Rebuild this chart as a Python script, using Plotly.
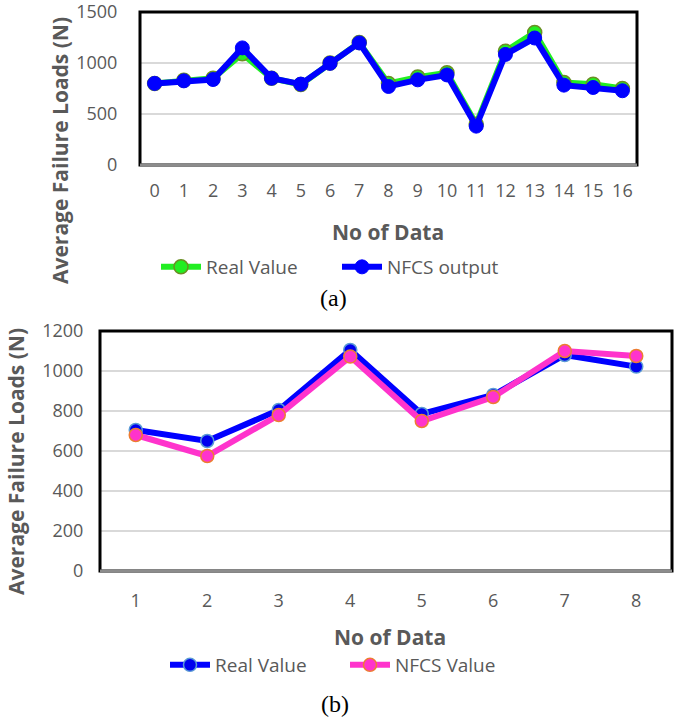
import plotly.graph_objects as go

# ---- data (a) ----
a_x = list(range(17))
a_real = [800, 830, 850, 1090, 850, 790, 1000, 1200, 800, 862, 905, 400, 1115, 1300, 808, 792, 750]
a_nfcs = [800, 825, 838, 1148, 851, 793, 997, 1197, 770, 835, 883, 381, 1084, 1245, 783, 760, 728]
a_yticks = [0, 500, 1000, 1500]

# ---- data (b) ----
b_x = [1, 2, 3, 4, 5, 6, 7, 8]
b_real = [705, 650, 805, 1105, 785, 880, 1080, 1022]
b_nfcs = [680, 575, 780, 1072, 750, 870, 1100, 1075]
b_yticks = [0, 200, 400, 600, 800, 1000, 1200]

W, H = 685, 722
GREY = "#595959"
FONT = "Open Sans"

fig = go.Figure()

# top chart traces
fig.add_trace(go.Scatter(
    x=a_x, y=a_real, mode="lines+markers", name="Real Value",
    line=dict(color="#22ee22", width=6),
    marker=dict(size=14, color="#22ee22", line=dict(color="#6b8e23", width=1.5)),
    xaxis="x", yaxis="y", legend="legend"))
fig.add_trace(go.Scatter(
    x=a_x, y=a_nfcs, mode="lines+markers", name="NFCS output",
    line=dict(color="#0000ff", width=6),
    marker=dict(size=14, color="#0000ff", line=dict(color="#0000ff", width=1)),
    xaxis="x", yaxis="y", legend="legend"))

# bottom chart traces
fig.add_trace(go.Scatter(
    x=b_x, y=b_real, mode="lines+markers", name="Real Value",
    line=dict(color="#0000ff", width=6),
    marker=dict(size=13, color="#0000ee", line=dict(color="#5b9bd5", width=1.5)),
    xaxis="x2", yaxis="y2", legend="legend2"))
fig.add_trace(go.Scatter(
    x=b_x, y=b_nfcs, mode="lines+markers", name="NFCS Value",
    line=dict(color="#ff33cc", width=6),
    marker=dict(size=13, color="#ff33cc", line=dict(color="#ed7d31", width=1.5)),
    xaxis="x2", yaxis="y2", legend="legend2"))

a_dom_x = [140 / W, 637 / W]
a_dom_y = [1 - 165 / H, 1 - 12 / H]
b_dom_x = [100 / W, 672 / W]
b_dom_y = [1 - 571 / H, 1 - 331 / H]

tickfont = dict(family=FONT, size=18, color=GREY)

common = dict(automargin=False, ticklabeloverflow="allow", zeroline=False,
              showline=False, tickfont=tickfont, ticks="outside",
              tickcolor="rgba(0,0,0,0)")

fig.update_layout(
    width=W, height=H, margin=dict(l=0, r=0, t=0, b=0, autoexpand=False),
    paper_bgcolor="white", plot_bgcolor="white",
    font=dict(family=FONT, color=GREY),
    xaxis=dict(domain=a_dom_x, type="linear", range=[-0.5, 16.5], tickvals=a_x,
               showgrid=False, ticklen=9, anchor="y", **common),
    yaxis=dict(domain=a_dom_y, range=[0, 1500], tickvals=a_yticks,
               showgrid=True, gridcolor="#d9d9d9", gridwidth=1.5,
               ticklen=18, anchor="x", **common),
    xaxis2=dict(domain=b_dom_x, type="linear", range=[0.5, 8.5], tickvals=b_x,
                showgrid=False, ticklen=13, anchor="y2", **common),
    yaxis2=dict(domain=b_dom_y, range=[0, 1200], tickvals=b_yticks,
                showgrid=True, gridcolor="#d9d9d9", gridwidth=1.5,
                ticklen=12, anchor="x2", **common),
    legend=dict(orientation="h", x=156 / W, y=1 - 267 / H, xanchor="left", yanchor="middle",
                font=dict(family=FONT, size=19, color=GREY), bgcolor="rgba(0,0,0,0)",
                itemwidth=40, tracegroupgap=0, entrywidth=126, entrywidthmode="pixels"),
    legend2=dict(orientation="h", x=165 / W, y=1 - 665 / H, xanchor="left", yanchor="middle",
                 font=dict(family=FONT, size=19, color=GREY), bgcolor="rgba(0,0,0,0)",
                 itemwidth=40, tracegroupgap=0, entrywidth=125, entrywidthmode="pixels"),
    showlegend=True,
)

# plot borders
for dx, dy in [(a_dom_x, a_dom_y), (b_dom_x, b_dom_y)]:
    fig.add_shape(type="rect", xref="paper", yref="paper",
                  x0=dx[0], x1=dx[1], y0=dy[0], y1=dy[1],
                  line=dict(color="black", width=3), layer="above")
    fig.add_shape(type="line", xref="paper", yref="paper",
                  x0=dx[0], x1=dx[1], y0=dy[0], y1=dy[0],
                  line=dict(color="#8c8c8c", width=3), layer="above")

titlefont = dict(family=FONT, size=21, color=GREY, weight="bold")
ann = [
    dict(text="<b>Average Failure Loads (N)</b>", x=60 / W, y=1 - 151 / H, textangle=-90),
    dict(text="<b>Average Failure Loads (N)</b>", x=16 / W, y=1 - 462 / H, textangle=-90),
    dict(text="<b>No of Data</b>", x=388 / W, y=1 - 232 / H),
    dict(text="<b>No of Data</b>", x=390 / W, y=1 - 637 / H),
]
for a in ann:
    fig.add_annotation(xref="paper", yref="paper", showarrow=False,
                       xanchor="center", yanchor="middle", font=titlefont, **a)

serif = dict(family="Liberation Serif", size=24, color="black")
fig.add_annotation(text="(a)", x=333 / W, y=1 - 298 / H, xref="paper", yref="paper",
                   showarrow=False, font=serif, xanchor="center", yanchor="middle")
fig.add_annotation(text="(b)", x=335 / W, y=1 - 704 / H, xref="paper", yref="paper",
                   showarrow=False, font=serif, xanchor="center", yanchor="middle")

fig.write_html("out.html", config={"displayModeBar": False},
               post_script="document.body.style.margin='0px';")
